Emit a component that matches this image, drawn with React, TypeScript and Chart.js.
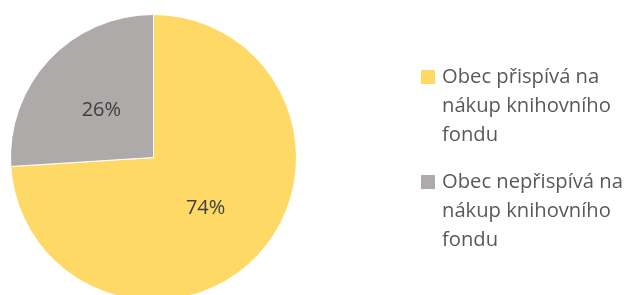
import React, { useEffect, useRef } from 'react';
import { Chart, registerables } from 'chart.js';

Chart.register(...registerables);

const categories: string[][] = [
  ['Obec přispívá na', 'nákup knihovního', 'fondu'],
  ['Obec nepřispívá na', 'nákup knihovního', 'fondu'],
];
const values: number[] = [74, 26];
const percentLabels: string[] = ['74%', '26%'];
const colors: string[] = ['#FFD966', '#AEAAAA'];

const FONT = '"Open Sans"';

const labelPlugin = {
  id: 'sliceLabels',
  afterDatasetsDraw(chart: any) {
    const ctx = chart.ctx;
    const meta = chart.getDatasetMeta(0);
    ctx.save();
    ctx.font = `20px ${FONT}`;
    ctx.fillStyle = '#404040';
    ctx.textAlign = 'center';
    ctx.textBaseline = 'middle';
    meta.data.forEach((arc: any, i: number) => {
      const p = arc.tooltipPosition();
      ctx.fillText(percentLabels[i], p.x, p.y + 2);
    });
    ctx.restore();
  },
};

const legendPlugin = {
  id: 'wrappedLegend',
  afterDraw(chart: any) {
    const ctx = chart.ctx;
    const lineH = 29;
    const itemGap = 18;
    const boxX = 421;
    const boxSize = 14;
    const textX = 442;
    let y = 77;
    ctx.save();
    ctx.font = `20.2px ${FONT}`;
    ctx.textAlign = 'left';
    ctx.textBaseline = 'middle';
    categories.forEach((lines, i) => {
      ctx.fillStyle = colors[i];
      ctx.fillRect(boxX, y - boxSize / 2, boxSize, boxSize);
      ctx.fillStyle = '#595959';
      lines.forEach((ln, j) => {
        ctx.fillText(ln, textX, y + j * lineH);
      });
      y += lines.length * lineH + itemGap;
    });
    ctx.restore();
  },
};

export default function App() {
  const ref = useRef<HTMLCanvasElement | null>(null);
  useEffect(() => {
    document.body.style.margin = '0';
    document.body.style.overflow = 'hidden';
    if (!ref.current) return;
    const chart = new Chart(ref.current, {
      type: 'pie',
      data: {
        labels: categories.map((c) => c.join(' ')),
        datasets: [
          {
            data: values,
            backgroundColor: colors,
            borderColor: '#ffffff',
            borderWidth: 1,
          },
        ],
      },
      options: {
        animation: false,
        responsive: false,
        maintainAspectRatio: false,
        layout: { padding: { left: 10, top: 14, right: 333, bottom: 9 } },
        plugins: {
          legend: { display: false },
          tooltip: { enabled: false },
        },
      },
      plugins: [labelPlugin, legendPlugin],
    });
    return () => chart.destroy();
  }, []);
  return (
    <div style={{ width: 630, height: 310 }}>
      <canvas ref={ref} width={630} height={310} style={{ display: 'block' }} />
    </div>
  );
}
